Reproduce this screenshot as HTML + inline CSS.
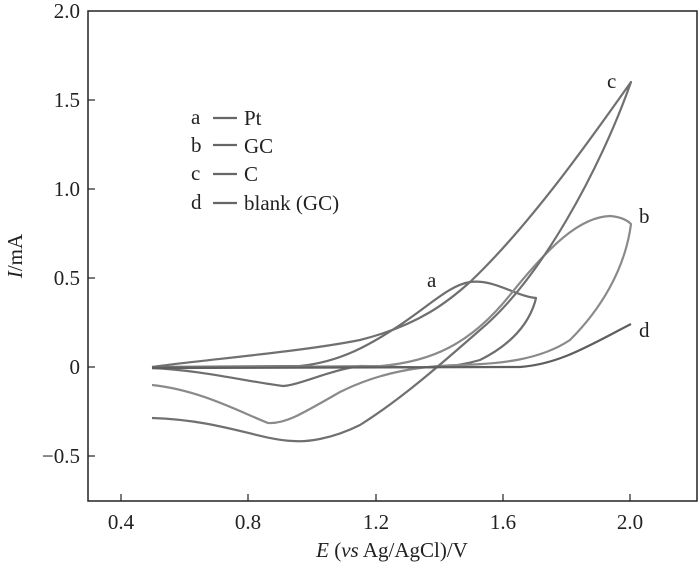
<!DOCTYPE html>
<html><head><meta charset="utf-8"><style>body{margin:0;background:#fff}</style></head>
<body>
<svg width="700" height="565" xmlns="http://www.w3.org/2000/svg" font-family="Liberation Serif, serif" font-size="21" fill="#222">
<rect x="88" y="11" width="609" height="490" fill="none" stroke="#222" stroke-width="1.5"/>
<g stroke="#222" stroke-width="1.2">
<line x1="88" y1="100" x2="95" y2="100"/><line x1="88" y1="189" x2="95" y2="189"/><line x1="88" y1="278" x2="95" y2="278"/><line x1="88" y1="367" x2="95" y2="367"/><line x1="88" y1="456" x2="95" y2="456"/>
<line x1="121" y1="501" x2="121" y2="494"/><line x1="248" y1="501" x2="248" y2="494"/><line x1="376" y1="501" x2="376" y2="494"/><line x1="503" y1="501" x2="503" y2="494"/><line x1="630" y1="501" x2="630" y2="494"/>
</g>
<g text-anchor="end">
<text x="80" y="18">2.0</text><text x="80" y="107">1.5</text><text x="80" y="196">1.0</text><text x="80" y="285">0.5</text><text x="80" y="374">0</text><text x="80" y="463">−0.5</text>
</g>
<g text-anchor="middle">
<text x="121" y="529">0.4</text><text x="248" y="529">0.8</text><text x="376" y="529">1.2</text><text x="503" y="529">1.6</text><text x="630" y="529">2.0</text>
<text x="392" y="557"><tspan font-style="italic">E</tspan> (<tspan font-style="italic">vs</tspan> Ag/AgCl)/V</text>
</g>
<text transform="translate(22,256) rotate(-90)" text-anchor="middle"><tspan font-style="italic">I</tspan>/mA</text>
<g fill="none" stroke-width="2.2" stroke-linejoin="round">
<path stroke="#6e6e6e" d="M152,367 L300,366 C340,362 370,345 400,325 C430,305 450,285 470,282 C495,279 515,296 536,298 L535,302 C528,325 510,345 480,360 C440,372 400,366 360,366 C330,370 300,385 283,386 C250,382 200,370 152,368"/>
<path stroke="#8a8a8a" d="M152,368 L380,366 C430,362 470,345 510,295 C550,245 580,217 610,216 C622,217 628,221 631,224 C625,270 600,310 570,340 C540,360 500,364 460,365 C420,366 380,372 340,392 C300,415 285,424 268,423 C240,412 200,390 152,385"/>
<path stroke="#707070" d="M152,367 C200,360 300,352 360,340 C420,325 450,300 470,282 C530,225 590,140 631,82 C600,170 540,280 480,330 C440,365 400,400 360,425 C330,440 305,442 293,441 C260,440 220,420 152,418"/>
<path stroke="#5e5e5e" d="M152,368 L520,367 C560,364 590,345 631,324"/>
</g>
<text x="607" y="88">c</text><text x="639" y="223">b</text><text x="427" y="287">a</text><text x="639" y="337">d</text>
<g stroke="#666" stroke-width="2.2">
<line x1="213" y1="118" x2="237" y2="118"/><line x1="213" y1="145" x2="237" y2="145"/><line x1="213" y1="174" x2="237" y2="174"/><line x1="213" y1="203" x2="237" y2="203"/>
</g>
<text x="191" y="124">a</text><text x="244" y="125">Pt</text>
<text x="191" y="152">b</text><text x="244" y="153">GC</text>
<text x="191" y="180">c</text><text x="244" y="181">C</text>
<text x="191" y="209">d</text><text x="244" y="210">blank (GC)</text>
</svg>
</body></html>
